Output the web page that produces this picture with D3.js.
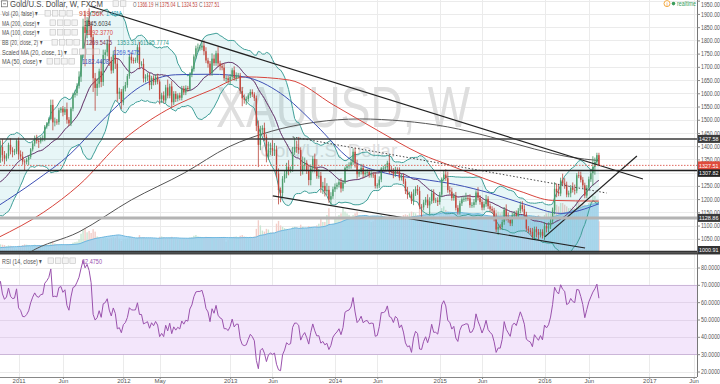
<!DOCTYPE html>
<html><head><meta charset="utf-8">
<script src="https://cdn.jsdelivr.net/npm/d3@7/dist/d3.min.js"></script>
<style>html,body{margin:0;padding:0;background:#fff;overflow:hidden}svg{display:block;font-family:"Liberation Sans",Arial,sans-serif}</style>
</head><body><svg id="chart" width="720" height="384"></svg>
<script>
// ---------- DATA ----------
const startDate = "2010-06-07"; // weekly bars
const closes = [
// 2010 Jun-Oct
1229,1256,1256,1210,1210,1211,1189,1182,1204,1215,1227,1236,1246,1246,1275,1296,1318,1346,1368,1326,1357,
// 2010 Nov-Dec
1397,1367,1353,1363,1405,1384,1378,1380,1421,
// 2011
1369,1361,1342,1341,1348, 1360,1388,1410,1428, 1420,1418,1428,1429, 1474,1486,1503,1556, 1490,1493,1491,1536,1542, 1528,1540,1500,1486, 1542,1594,1601,1628, 1663,1744,1852,1828,1876, 1856,1812,1657,1620, 1636,1683,1643,1745,1755, 1788,1723,1686,1746, 1712,1598,1606,1565,
// 2012
1617,1631,1665,1738,1725, 1724,1725,1774,1711, 1711,1656,1662,1668, 1631,1658,1642,1662,1644, 1578,1592,1573,1622, 1591,1626,1566,1598, 1579,1592,1583,1618,1603, 1620,1616,1671,1692, 1739,1770,1773,1773, 1780,1759,1724,1712,1676, 1731,1714,1751,1713, 1702,1697,1657,1657,1649,
// 2013
1662,1687,1658,1667, 1667,1609,1581,1576, 1578,1592,1605,1596, 1581,1477,1405,1462,1469, 1435,1364,1387,1393, 1383,1387,1296,1234, 1223,1277,1294,1322,1310, 1313,1377,1396,1395, 1386,1308,1326,1337,1310, 1272,1316,1352,1316, 1287,1288,1244,1250, 1230,1235,1198,1211,1237,
// 2014
1247,1254,1264,1240, 1262,1318,1324,1327, 1339,1379,1334,1294,1303, 1318,1294,1300,1302, 1291,1293,1292,1250, 1252,1274,1316,1316,1320, 1337,1310,1307,1294, 1310,1305,1280,1287, 1267,1231,1216,1218,1192, 1222,1238,1231,1171, 1169,1187,1198,1176, 1192,1222,1195,1195,1189,
// 2015
1217,1277,1293,1279, 1234,1228,1204,1212, 1167,1152,1184,1199,1201, 1204,1203,1177,1178, 1188,1225,1205,1189, 1168,1181,1201,1173,1163, 1157,1131,1085,1095, 1094,1113,1160,1134,1121, 1108,1138,1145,1137, 1156,1177,1162,1142, 1088,1081,1076,1057,1086, 1075,1065,1076,1061,
// 2016
1098,1089,1097,1118, 1158,1239,1227,1221,1271, 1259,1254,1217,1222, 1243,1235,1232,1290, 1289,1273,1252,1213,1243, 1275,1298,1322,1340, 1366.19,1327.51
];
const upWick = [
12,8,10,5,8,6,10,8,6,8,7,5,8,6,5,8,6,10,20,18,10,
25,30,15,10,8,25,12,10,5,
12,15,18,8,8, 6,5,8,12, 15,10,8,12, 6,5,6,20, 20,15,10,8,6, 10,8,25,10, 6,8,10,10, 20,8,30,60,12, 45,15,10,20, 20,10,40,20,10, 15,30,15,15, 30,20,15,10,
10,12,8,10,15, 10,10,10,20, 10,20,10,10, 10,8,10,10,12, 8,10,15,10, 30,10,20,10, 10,8,10,10,10, 10,8,8,12, 8,10,15,10, 16,20,15,10,10, 20,15,10,25, 10,12,15,10,10,
10,8,15,12, 10,10,15,15, 10,8,10,10, 8,10,20,15,10, 20,10,30,20, 30,25,15,20, 10,10,15,15,25, 10,20,38,25, 40,10,35,20,10, 20,15,10,20, 35,25,15,15, 30,25,15,15,10,
12,8,10,15, 10,5,8,12, 15,13,15,15,10, 15,15,12,12, 10,12,8,10, 8,12,5,10,12, 8,30,15,10, 12,10,15,8, 10,10,15,10,10, 15,10,15,15, 10,10,10,20, 15,15,15,10,12,
10,5,14,20, 25,15,15,10, 15,10,10,10,10, 20,10,15,10, 12,8,20,10, 10,10,15,10,10, 10,10,15,10, 10,10,10,20,15, 12,10,10,12, 10,14,15,15, 10,10,10,15,10, 10,12,10,10,
15,10,15,8, 10,25,20,30,10, 25,20,12,10, 10,20,20,8, 15,15,10,10,10, 10,17,40,17, 9,8.85
];
const downWick = [
10,8,15,8,5,10,8,10,6,8,6,8,5,8,6,5,10,8,12,18,10,
20,25,22,10,10,15,20,12,10,
20,10,12,32,10, 20,8,8,10, 10,25,8,10, 10,8,10,5, 30,15,10,10,10, 15,10,15,10, 10,10,10,10, 10,20,10,126,20, 36,30,52,86, 30,15,20,15,20, 15,20,12,10, 20,30,20,25,
10,10,10,10,12, 12,10,10,20, 10,15,15,15, 20,15,12,10,10, 20,15,10,10, 10,10,20,10, 12,10,10,10,10, 10,10,8,10, 10,10,15,12, 10,15,10,15,10, 10,10,10,12, 15,10,10,15,12,
15,10,10,12, 10,12,30,15, 20,10,10,10, 10,20,84,20,15, 15,25,15,20, 20,20,15,54, 35,20,15,15,20, 10,10,10,20, 15,20,15,20,15, 20,20,15,15, 10,10,20,25, 20,15,12,20,10,
10,10,10,15, 10,5,10,10, 12,10,15,17,10, 10,15,10,10, 10,10,12,10, 10,10,10,10,10, 10,15,10,15, 10,10,10,10, 10,12,15,10,10, 15,10,15,10, 38,10,10,10, 34,10,10,10,15,
10,10,10,10, 10,10,10,10, 10,10,10,10,10, 10,10,10,10, 10,10,10,10, 10,10,10,10,10, 10,15,10,20, 10,10,10,15,10, 10,10,10,10, 10,10,10,10, 10,10,10,10,10, 20,19,10,10,
15,15,15,10, 10,15,20,10,10, 10,15,10,10, 15,10,15,10, 10,10,10,10,10, 10,10,48,30, 10,2.98
];
const volumeK = [
120,130,140,150,120,110,130,140,120,110,120,130,140,120,150,160,170,200,220,230,200,
250,240,230,200,220,210,190,150,130,
210,200,230,250,240, 220,200,230,240, 220,230,210,200, 220,230,240,300, 350,280,260,250,240, 230,220,250,240, 260,300,320,330, 400,560,680,720,600, 640,580,690,620, 480,450,420,460,440, 430,420,440,460, 440,520,420,350,
400,420,430,480,450, 430,420,440,520, 450,460,430,420, 420,410,400,390,390, 470,480,460,440, 440,450,470,430, 420,410,400,420,430, 410,400,450,460, 500,520,480,470, 460,450,470,460,440, 440,430,420,420, 430,440,460,330,380,
450,460,470,480, 460,500,520,480, 470,460,470,460, 480,700,950,800,650, 620,700,680,600, 600,580,850,930, 800,760,720,700,680, 660,750,760,740, 720,820,760,700,720, 780,760,740,700, 800,850,1000,900, 900,1100,1300,800,850,
1000,1050,1100,1150, 1300,1200,1150,1100, 1050,1100,1150,1200,1100, 1050,1000,1000,950, 950,900,920,1000, 1050,1000,1100,1050,1000, 1000,1080,1050,1000, 1000,950,980,1000, 1100,1120,1100,1150,1200, 1180,1150,1100,1250, 1300,1250,1150,1150, 1200,1150,1100,1000,950,
1200,1300,1350,1250, 1200,1150,1100,1150, 1200,1250,1200,1100,1050, 1050,1050,1000,1000, 1050,1100,1050,1000, 1050,1000,1050,1000,1000, 1050,1100,1250,1200, 1150,1200,1250,1150,1000, 1000,1050,1050,1000, 1050,1050,1000,1000, 1050,1000,950,900,1000, 1000,1100,900,850,
1100,1150,1200,1150, 1300,1500,1400,1350,1450, 1450,1400,1350,1300, 1300,1350,1300,1500, 1500,1400,1450,1400,1350, 1450,1500,1700,1650, 1550,919.56
];
const ma200Pts = [["2010-10-25",905],["2011-02-07",996],["2011-08-01",1076],["2012-01-30",1197],["2012-08-01",1299],["2013-01-01",1397],["2013-06-01",1457],["2013-11-01",1491],["2014-04-01",1503],["2014-09-01",1495],["2015-02-01",1473],["2015-07-01",1435],["2015-12-01",1389],["2016-04-01",1359],["2016-07-11",1345.6]];
const ma100Pts = [["2010-10-25",1055],["2011-04-01",1151],["2011-08-01",1253],["2012-01-01",1423],["2012-06-01",1537],["2012-11-01",1612],["2013-03-01",1662],["2013-08-01",1650],["2014-01-01",1556],["2014-06-01",1461],["2014-11-01",1370],["2015-02-15",1325],["2015-06-15",1275],["2015-10-10",1230],["2016-02-01",1195],["2016-07-11",1192.4]];
const ma50Pts = [["2010-10-25",1175],["2011-03-01",1268],["2011-07-01",1370],["2011-11-01",1510],["2012-03-01",1625],["2012-07-01",1670],["2012-11-01",1672],["2013-03-01",1661],["2013-07-01",1600],["2013-11-01",1480],["2014-03-01",1350],["2014-07-01",1298],["2014-11-01",1276],["2015-03-01",1255],["2015-07-01",1222],["2015-11-01",1179],["2016-03-01",1146],["2016-07-11",1182.4]];
const trendLines = [
  [["2011-09-07",1930],["2016-12-11",1276]],
  [["2013-06-04",1212],["2016-05-24",1015]],
  [["2016-01-05",1057],["2016-11-20",1363]]
];
const dottedLine = [["2013-08-12",1435],["2016-08-07",1223]];
const levelLines = [1427.58, 1307.82, 1128.86, 1000.91];
const lastPrice = 1327.51;
const priceTicks = [1050,1100,1150,1200,1250,1300,1350,1400,1450,1500,1550,1600,1650,1700,1750,1800,1850,1900,1950];
const hiddenPriceLabels = [1300];
const rsiTicks = [20,30,40,50,60,70,80];
const timeTicks = ["2011-01-03","2011-06-06","2012-01-02","2012-05-07","2013-01-07","2013-06-03","2014-01-06","2014-06-02","2015-01-05","2015-06-01","2016-01-04","2016-06-06","2017-01-02","2017-06-05"];
const timeLabels = ["2011","Jun","2012","May","2013","Jun","2014","Jun","2015","Jun","2016","Jun","2017","Jun"];
const title = "Gold/U.S. Dollar, W, FXCM";
const ohlc = [["O","1366.19"],["H","1375.04"],["L","1324.53"],["C","1327.51"]];
const legendLabels = ["Vol (20, false)","MA (200, close)","MA (100, close)","BB (20, close, 2)","Scaled MA (20, close, 1)","MA (50, close)"];
const legendValues = [["919.56K","1.48M"],["1345.6034"],["1192.3770"],["1269.5475","1353.3176","1185.7774"],["1269.5475"],["1182.4408"]];
const rsiLabel = "RSI (14, close)";
const rsiValue = "62.4750";
const watermark = "XAUUSD, W";
const watermarkSub = "Gold/U.S. Dollar";

// ---------- LAYOUT ----------
const svg = d3.select("#chart");
const AX = 697, MAIN_B = 253, RSI_T = 255, TIME_Y = 377;
const x = d3.scaleTime().domain([new Date(2011,0,1), new Date(2017,0,1)]).range([18,649]);
const y = d3.scaleLinear().domain([1000,1950]).range([252,0.7]);
const ry = d3.scaleLinear().domain([20,80]).range([371.5,267.5]);
const vy = d3.scaleLinear().domain([0,1000]).range([MAIN_B,218.5]);
const P = d3.timeParse("%Y-%m-%d");
const t0 = P(startDate);
const bars = closes.map((c,i)=>{const o=i>0?closes[i-1]:c;return {d:d3.timeDay.offset(t0,7*i),o,c,h:Math.max(o,c)+upWick[i],l:Math.min(o,c)-downWick[i],v:volumeK[i]};});

function sma(arr,n){return arr.map((v,i)=>i<n-1?null:d3.mean(arr.slice(i-n+1,i+1)));}
const basis = sma(closes,20);
const dev = closes.map((v,i)=>i<19?null:Math.sqrt(d3.mean(closes.slice(i-19,i+1),c=>(c-basis[i])**2)));
const volMA = sma(volumeK,20);
const rsi = new Array(closes.length).fill(null);
let ag=0, al=0;
for(let i=1;i<closes.length;i++){
  const ch=closes[i]-closes[i-1], g=Math.max(ch,0), l=Math.max(-ch,0);
  if(i<=14){ag+=g/14;al+=l/14;if(i===14)rsi[i]=100-100/(1+ag/al);}
  else{ag=(ag*13+g)/14;al=(al*13+l)/14;rsi[i]=100-100/(1+ag/al);}
}

// squeeze a text horizontally to a target width (keeps glyph height)
function squeeze(t, xx, yb, w, anchor){
  const n = t.node().getComputedTextLength();
  const s = Math.min(1, w/n);
  t.attr("x",0).attr("y",0).attr("text-anchor",anchor||"start").attr("transform",`translate(${xx},${yb}) scale(${s},1)`);
  return t;
}

const defs = svg.append("defs");
defs.append("clipPath").attr("id","cm").append("rect").attr("x",0).attr("y",0).attr("width",AX).attr("height",MAIN_B);
defs.append("clipPath").attr("id","cr").append("rect").attr("x",0).attr("y",RSI_T).attr("width",AX).attr("height",TIME_Y-RSI_T);

// grid
const grid = svg.append("g");
timeTicks.forEach(t=>{const xx=Math.round(x(P(t)))+0.5;grid.append("line").attr("x1",xx).attr("x2",xx).attr("y1",0).attr("y2",TIME_Y).attr("stroke","#ebebeb");});
priceTicks.forEach(p=>{const yy=Math.round(y(p))+0.5;grid.append("line").attr("x1",0).attr("x2",AX).attr("y1",yy).attr("y2",yy).attr("stroke","#ebebeb");});

// RSI band
svg.append("rect").attr("x",0).attr("y",ry(70)).attr("width",AX).attr("height",ry(30)-ry(70)).attr("fill","#f3e6fb");
rsiTicks.forEach(v=>{const yy=Math.round(ry(v))+0.5;svg.append("line").attr("x1",0).attr("x2",AX).attr("y1",yy).attr("y2",yy)
  .attr("stroke",(v===70||v===30)?"#cbb6d8":(v>30&&v<70?"#e2d4ea":"#ebebeb"));});

// watermark
squeeze(svg.append("text").attr("font-size",58).attr("fill","#dedede").text(watermark),216,127,254);
squeeze(svg.append("text").attr("font-size",19).attr("fill","#dedede").text(watermarkSub),260,157,173);

const main = svg.append("g").attr("clip-path","url(#cm)");
const bw = 1.4;
// volume bars
main.selectAll(".vb").data(bars).join("rect").attr("x",d=>x(d.d)-bw/2).attr("width",bw)
  .attr("y",d=>vy(d.v)).attr("height",d=>MAIN_B-vy(d.v)).attr("fill",d=>d.c>=d.o?"#c9e6d2":"#f2cdc8");
// volume MA area
const vArea = d3.area().defined((d,i)=>volMA[i]!=null).x(d=>x(d.d)).y0(MAIN_B).y1((d,i)=>vy(volMA[i]));
main.append("path").datum(bars).attr("d",vArea).attr("fill","#9bd0ee").attr("opacity",0.8);
main.append("path").datum(bars).attr("d",d3.line().defined((d,i)=>volMA[i]!=null).x(d=>x(d.d)).y((d,i)=>vy(volMA[i]))).attr("fill","none").attr("stroke","#6cb6df").attr("stroke-width",1);

// BB
const bbArea = d3.area().defined((d,i)=>basis[i]!=null).x(d=>x(d.d)).y0((d,i)=>y(basis[i]-2*dev[i])).y1((d,i)=>y(basis[i]+2*dev[i]));
main.append("path").datum(bars).attr("d",bbArea).attr("fill","#49b6c0").attr("opacity",0.13);
const lineOf = f=>d3.line().defined((d,i)=>basis[i]!=null).x(d=>x(d.d)).y(f);
main.append("path").datum(bars).attr("d",lineOf((d,i)=>y(basis[i]+2*dev[i]))).attr("fill","none").attr("stroke","#3f9f98").attr("stroke-width",1);
main.append("path").datum(bars).attr("d",lineOf((d,i)=>y(basis[i]-2*dev[i]))).attr("fill","none").attr("stroke","#3f9f98").attr("stroke-width",1);
main.append("path").datum(bars).attr("d",lineOf((d,i)=>y(basis[i]))).attr("fill","none").attr("stroke","#7a3552").attr("stroke-width",1);
main.append("path").datum(bars).attr("d",lineOf((d,i)=>y(basis[i]))).attr("fill","none").attr("stroke","#4a5fc8").attr("stroke-width",0.6).attr("opacity",0.5);

// MAs
const maLine = d3.line().x(d=>x(P(d[0]))).y(d=>y(d[1])).curve(d3.curveMonotoneX);
main.append("path").attr("d",maLine(ma200Pts)).attr("fill","none").attr("stroke","#555").attr("stroke-width",1);
main.append("path").attr("d",maLine(ma100Pts)).attr("fill","none").attr("stroke","#d8453d").attr("stroke-width",1);
main.append("path").attr("d",maLine(ma50Pts)).attr("fill","none").attr("stroke","#3d4fb5").attr("stroke-width",1);

// candles
const cg = main.append("g");
cg.selectAll(".w").data(bars).join("line").attr("x1",d=>x(d.d)).attr("x2",d=>x(d.d)).attr("y1",d=>y(d.h)).attr("y2",d=>y(d.l))
  .attr("stroke",d=>d.c>=d.o?"#3f8f5e":"#b9443a").attr("stroke-width",0.8);
cg.selectAll(".b").data(bars).join("rect").attr("x",d=>x(d.d)-bw/2).attr("width",bw)
  .attr("y",d=>y(Math.max(d.o,d.c))).attr("height",d=>Math.max(0.8,Math.abs(y(d.o)-y(d.c))))
  .attr("fill",d=>d.c>=d.o?"#4c9e6c":"#c4473c");

// trend lines
const tl = d3.line().x(d=>x(P(d[0]))).y(d=>y(d[1]));
trendLines.forEach(l=>main.append("path").attr("d",tl(l)).attr("stroke","#222").attr("stroke-width",1.2).attr("fill","none"));
main.append("path").attr("d",tl(dottedLine)).attr("stroke","#444").attr("stroke-width",1).attr("stroke-dasharray","1.5,2").attr("fill","none");

// level lines
const lvlColors = ["#3a3a3a","#222","#b4b4b4","#333"];
const lvlWidths = [1.5,1.5,3,2];
levelLines.forEach((p,i)=>svg.append("line").attr("x1",0).attr("x2",AX).attr("y1",y(p)).attr("y2",y(p)).attr("stroke",lvlColors[i]).attr("stroke-width",lvlWidths[i]));
svg.append("line").attr("x1",0).attr("x2",AX).attr("y1",y(lastPrice)).attr("y2",y(lastPrice)).attr("stroke","#e06a60").attr("stroke-width",1).attr("stroke-dasharray","1.5,1.5");

// RSI
const rg = svg.append("g").attr("clip-path","url(#cr)");
rg.append("path").datum(bars).attr("d",d3.line().defined((d,i)=>rsi[i]!=null).x(d=>x(d.d)).y((d,i)=>ry(rsi[i]))).attr("fill","none").attr("stroke","#9a52ad").attr("stroke-width",1);

// axes
svg.append("line").attr("x1",AX+0.5).attr("x2",AX+0.5).attr("y1",0).attr("y2",TIME_Y).attr("stroke","#777");
svg.append("line").attr("x1",0).attr("x2",AX).attr("y1",TIME_Y+0.5).attr("y2",TIME_Y+0.5).attr("stroke","#888");
function styleAxis(g){g.select(".domain").remove();g.selectAll("line").attr("stroke","#888");
  g.selectAll("text").attr("font-size",6.5).attr("fill","#555").attr("font-family","Liberation Sans, Arial, sans-serif");}
function squeezeRightLabels(g){g.selectAll(".tick text").each(function(d){
  const t=d3.select(this); const n=this.getComputedTextLength(); const s=Math.min(1,19/n);
  t.attr("x",0).attr("text-anchor","start").attr("transform",`translate(4,0) scale(${s},1)`);});}
const pAx = svg.append("g").attr("transform",`translate(${AX},0)`).call(d3.axisRight(y).tickValues(priceTicks).tickFormat(d3.format(".2f")).tickSize(3).tickPadding(1)).call(styleAxis).call(squeezeRightLabels);
pAx.selectAll(".tick").filter(d=>d===1950).select("text").attr("dy","0.95em");
pAx.selectAll(".tick").filter(d=>hiddenPriceLabels.includes(d)).select("text").remove();
svg.append("g").attr("transform",`translate(${AX},0)`).call(d3.axisRight(ry).tickValues(rsiTicks).tickFormat(d3.format(".4f")).tickSize(3).tickPadding(1)).call(styleAxis).call(squeezeRightLabels);
const tAx = svg.append("g").attr("transform",`translate(0,${TIME_Y})`).call(d3.axisBottom(x).tickValues(timeTicks.map(P)).tickFormat((d,i)=>timeLabels[i]).tickSize(2).tickPadding(0)).call(styleAxis);
tAx.selectAll("text").attr("font-size",6).attr("dy","0.7em");

// separator
svg.append("line").attr("x1",0).attr("x2",720).attr("y1",MAIN_B+0.5).attr("y2",MAIN_B+0.5).attr("stroke","#444").attr("stroke-width",2);

// price label boxes (TradingView pushes overlapping labels apart)
const boxCols = ["#3a3a3a","#222","#3a3a3a","#333"];
const lastY = y(lastPrice);
function box(p,col,yy){yy=Math.max(4.5,Math.min(yy,MAIN_B-3));svg.append("rect").attr("x",698).attr("y",yy-4).attr("width",22).attr("height",8).attr("fill",col);
  squeeze(svg.append("text").attr("font-size",6).attr("fill","#fff").text(p.toFixed(2)),699,yy+2.2,19.5);}
levelLines.forEach((p,i)=>{let yy=y(p); if(Math.abs(yy-lastY)<7.5) yy = lastY + (yy>=lastY?7.5:-7.5); box(p,boxCols[i],yy);});
box(lastPrice,"#e04b3c",lastY);

// legend
const lg = svg.append("g");
function txt(s,xx,yb,w,fill,size){return squeeze(lg.append("text").attr("fill",fill).attr("font-size",size||8).text(s),xx,yb,w);}
function icons(x0,yc,n){for(let k=0;k<n;k++)lg.append("rect").attr("x",x0+k*7.3).attr("y",yc-2.8).attr("width",5.6).attr("height",5.6).attr("fill","#f3f3f3").attr("stroke","#c2c2c2").attr("stroke-width",0.6);}
lg.append("rect").attr("x",1.5).attr("y",0.8).attr("width",6).attr("height",6).attr("fill","none").attr("stroke","#666").attr("stroke-width",0.7);
lg.append("line").attr("x1",3).attr("x2",6).attr("y1",3.8).attr("y2",3.8).attr("stroke","#666").attr("stroke-width",0.7);
txt(title,10,6.6,93,"#4a4a4a",8.5);
icons(113,3.6,2);
ohlc.forEach((p,i)=>{const x0=133+i*22;txt(p[0],x0,6.6,3.5,"#666",7.5);txt(p[1],x0+4.5,6.6,16,"#c0443a",7.5);});
const rowY = [13.3,22.7,32.3,42.3,51.7,61.3];
const rowLW = [36,38,38,40,65,40];
const rowIX = [45,50,50,52,72,47];
const rowVX = [[79,106],[84],[86],[86,117,143],[113],[82]];
const rowVW = [[25,15],[27],[27],[26,26,26],[27],[27]];
const rowVC = [["#c9473c","#2aa0b4"],["#444"],["#d8453d"],["#7a3552","#2f9a8e","#2f9a8e"],["#3a5fd0"],["#3d4fb5"]];
legendLabels.forEach((s,i)=>{txt(s+" ▾",2,rowY[i]+2.9,rowLW[i],"#555",8);icons(rowIX[i],rowY[i],4);
  legendValues[i].forEach((v,j)=>txt(v,rowVX[i][j],rowY[i]+2.9,rowVW[i][j],rowVC[i][j],8));});
// RSI legend
txt(rsiLabel+" ▾",2,263.6,40,"#555",8);icons(48,260.7,4);txt(rsiValue,82,263.6,20,"#9a52ad",8);

// realtime
svg.append("circle").attr("cx",667).attr("cy",3.6).attr("r",3).attr("fill","#fff").attr("stroke","#f0a030").attr("stroke-width",0.9);
svg.append("text").attr("x",667).attr("y",5.8).attr("font-size",5.5).attr("text-anchor","middle").attr("fill","#e08a20").text("i");
svg.append("circle").attr("cx",673.5).attr("cy",3.6).attr("r",1.8).attr("fill","#3a9d5c");
squeeze(svg.append("text").attr("font-size",7).attr("fill","#3a9d5c").text("realtime"),677,6.2,19);
</script></body></html>
